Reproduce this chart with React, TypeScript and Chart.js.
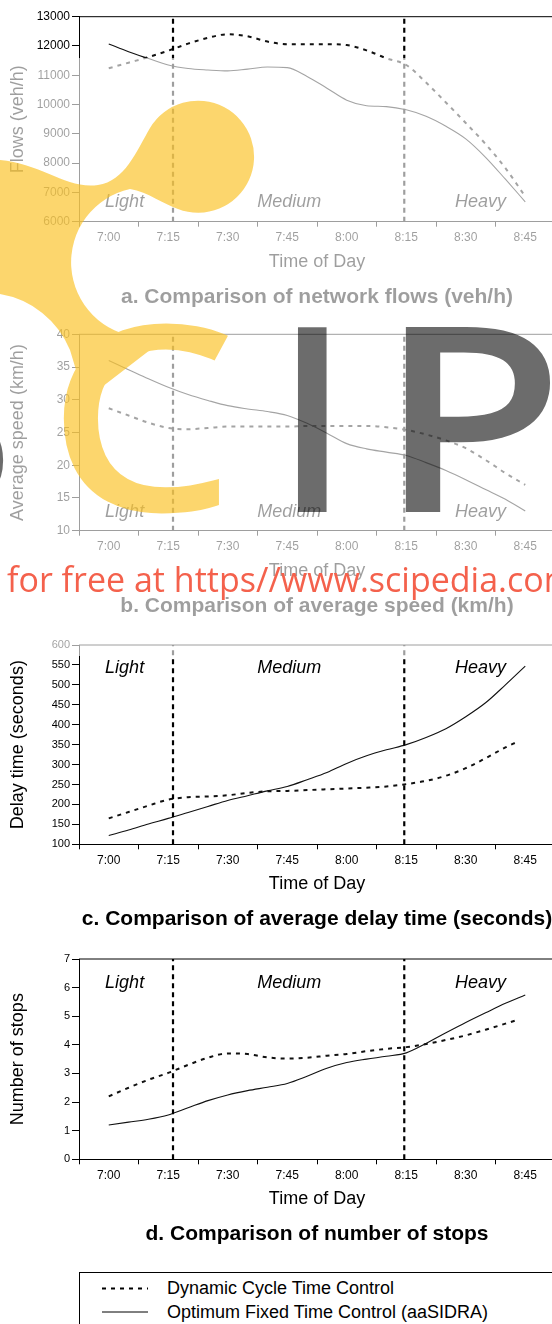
import React, { useEffect, useRef } from 'react';
import { Chart, registerables } from 'chart.js';

Chart.register(...registerables);

const FONT = "'Liberation Sans', Arial, Helvetica, sans-serif";

// ---------- data ----------
const timeLabels = ['7:00', '7:15', '7:30', '7:45', '8:00', '8:15', '8:30', '8:45'];
const labelMinutes = [0, 15, 30, 45, 60, 75, 90, 105];
const periodNames = ['Light', 'Medium', 'Heavy'];
const periodNameMinutes = [4, 45.5, 93.7];
const periodBoundaries = [16.2, 74.5];

const minutes = [0, 5, 10, 15, 20, 25, 30, 35, 40, 45, 50, 55, 60, 65, 70, 75, 80, 85, 90, 95, 100, 105];
const minutesShort = [0, 5, 10, 15, 20, 25, 30, 35, 40, 45, 50, 55, 60, 65, 70, 75, 80, 85, 90, 95, 100, 103];

const flowDynamic = [11240, 11430, 11620, 11840, 12080, 12280, 12400, 12330, 12150, 12060, 12060, 12060, 12030, 11850, 11580, 11350, 10750, 10070, 9370, 8650, 7830, 6860];
const flowOptimum = [12070, 11800, 11570, 11350, 11230, 11180, 11150, 11210, 11280, 11260, 10960, 10560, 10150, 9960, 9930, 9820, 9600, 9260, 8830, 8200, 7450, 6680];

const speedDynamic = [28.7, 27.6, 26.5, 25.7, 25.5, 25.7, 25.9, 25.9, 25.9, 25.9, 26.0, 26.0, 26.0, 26.0, 25.8, 25.4, 24.7, 23.8, 22.6, 20.8, 18.8, 17.0];
const speedOptimum = [36.0, 34.6, 33.2, 31.9, 30.8, 29.9, 29.1, 28.6, 28.2, 27.6, 26.4, 24.9, 23.3, 22.5, 22.0, 21.5, 20.4, 19.2, 17.8, 16.3, 14.8, 13.0];

const delayDynamic = [165, 181, 197, 212, 218, 220, 223, 229, 233, 234, 236, 238, 240, 242, 245, 251, 259, 272, 291, 316, 343, 357];
const delayOptimum = [122, 136, 151, 165, 180, 195, 210, 222, 234, 245, 262, 280, 303, 322, 337, 350, 368, 390, 420, 455, 500, 547];

const stopsDynamic = [2.2, 2.5, 2.78, 3.02, 3.3, 3.55, 3.7, 3.68, 3.56, 3.52, 3.55, 3.62, 3.68, 3.78, 3.86, 3.92, 4.03, 4.17, 4.33, 4.53, 4.74, 4.87];
const stopsOptimum = [1.2, 1.3, 1.4, 1.55, 1.8, 2.05, 2.25, 2.4, 2.52, 2.65, 2.9, 3.18, 3.38, 3.5, 3.6, 3.72, 4.05, 4.42, 4.78, 5.12, 5.45, 5.74];

const legendLabels = ['Dynamic Cycle Time Control', 'Optimum Fixed Time Control (aaSIDRA)'];

// ---------- panel layout ----------
type PanelSpec = {
  plotTop: number;
  plotBottom: number;
  yMin: number;
  yMax: number;
  yStep: number;
  yTickSize: number;
  yTitle: string;
  title: string;
  dynX: number[];
  dynY: number[];
  optX: number[];
  optY: number[];
  periodLabelValue: number;
};

const panels: PanelSpec[] = [
  {
    plotTop: 16.7, plotBottom: 221.7, yMin: 6000, yMax: 13000, yStep: 1000, yTickSize: 12,
    yTitle: 'Flows (veh/h)', title: 'a. Comparison of network flows (veh/h)',
    dynX: minutes, dynY: flowDynamic, optX: minutes, optY: flowOptimum, periodLabelValue: 6684,
  },
  {
    plotTop: 334.3, plotBottom: 530.7, yMin: 10, yMax: 40, yStep: 5, yTickSize: 12,
    yTitle: 'Average speed (km/h)', title: 'b. Comparison of average speed (km/h)',
    dynX: minutes, dynY: speedDynamic, optX: minutes, optY: speedOptimum, periodLabelValue: 12.9,
  },
  {
    plotTop: 645, plotBottom: 844.3, yMin: 100, yMax: 600, yStep: 50, yTickSize: 11,
    yTitle: 'Delay time (seconds)', title: 'c. Comparison of average delay time (seconds)',
    dynX: minutesShort, dynY: delayDynamic, optX: minutes, optY: delayOptimum, periodLabelValue: 542,
  },
  {
    plotTop: 959, plotBottom: 1159.3, yMin: 0, yMax: 7, yStep: 1, yTickSize: 11,
    yTitle: 'Number of stops', title: 'd. Comparison of number of stops',
    dynX: minutesShort, dynY: stopsDynamic, optX: minutes, optY: stopsOptimum, periodLabelValue: 6.16,
  },
];

const CANVAS_W = 555;
const X_AXIS_H = 51;
const TITLE_PAD_TOP = 11.6;
const TITLE_SIZE = 21;
const TITLE_BOX = TITLE_PAD_TOP + TITLE_SIZE * 1.2;

const decorPlugin = {
  id: 'decor',
  afterDatasetsDraw(chart: any, _args: any, opts: any) {
    const { ctx, chartArea, scales } = chart;
    ctx.save();
    ctx.strokeStyle = '#000';
    ctx.lineWidth = 1;
    ctx.beginPath();
    ctx.moveTo(chartArea.left, chartArea.top);
    ctx.lineTo(chartArea.right, chartArea.top);
    ctx.stroke();
    ctx.font = `italic 18px ${FONT}`;
    ctx.fillStyle = '#000';
    ctx.textAlign = 'center';
    ctx.textBaseline = 'middle';
    periodNames.forEach((n, i) => {
      ctx.fillText(n, scales.x.getPixelForValue(periodNameMinutes[i]), scales.y.getPixelForValue(opts.labelValue));
    });
    ctx.restore();
  },
};

function LinePanel({ spec }: { spec: PanelSpec }) {
  const ref = useRef<HTMLCanvasElement>(null);
  const canvasTop = Math.floor(spec.plotTop) - 12;
  const padTop = spec.plotTop - canvasTop;
  const plotH = spec.plotBottom - spec.plotTop;
  const needed = padTop + plotH + X_AXIS_H + TITLE_BOX;
  const canvasH = Math.ceil(needed);
  const padBottom = canvasH - needed;

  useEffect(() => {
    const toPts = (xs: number[], ys: number[]) => xs.map((x, i) => ({ x, y: ys[i] }));
    const vlines = periodBoundaries.map((b) => ({
      data: [{ x: b, y: spec.yMin }, { x: b, y: spec.yMax }],
      borderColor: '#000',
      borderWidth: 2.2,
      borderDash: [5, 4],
      pointRadius: 0,
      tension: 0,
    }));
    const chart = new Chart(ref.current as HTMLCanvasElement, {
      type: 'line',
      data: {
        datasets: [
          ...vlines,
          {
            label: legendLabels[0],
            data: toPts(spec.dynX, spec.dynY),
            borderColor: '#111',
            borderWidth: 2,
            borderDash: [4, 5],
            pointRadius: 0,
            cubicInterpolationMode: 'monotone',
          },
          {
            label: legendLabels[1],
            data: toPts(spec.optX, spec.optY),
            borderColor: '#111',
            borderWidth: 1.1,
            pointRadius: 0,
            cubicInterpolationMode: 'monotone',
          },
        ] as any,
      },
      options: {
        responsive: false,
        animation: false,
        events: [],
        layout: { padding: { top: padTop, left: 0, right: 0, bottom: padBottom } },
        font: { family: FONT },
        plugins: {
          legend: { display: false },
          tooltip: { enabled: false },
          title: {
            display: true,
            position: 'bottom',
            fullSize: false,
            text: spec.title,
            color: '#000',
            font: { family: FONT, size: TITLE_SIZE, weight: 'bold' },
            padding: { top: TITLE_PAD_TOP, bottom: 0 },
          },
          decor: { labelValue: spec.periodLabelValue },
        } as any,
        scales: {
          x: {
            type: 'linear',
            min: -7.5,
            max: 112.5,
            afterBuildTicks: (s: any) => {
              s.ticks = labelMinutes.map((v) => ({ value: v }));
            },
            afterFit: (s: any) => {
              s.height = X_AXIS_H;
            },
            ticks: {
              callback: (_v: any, i: number) => timeLabels[i],
              color: '#000',
              font: { family: FONT, size: 12 },
              padding: 4,
              maxRotation: 0,
              autoSkip: false,
            },
            grid: { offset: true, drawOnChartArea: false, drawTicks: true, tickLength: 5, color: '#000' },
            border: { display: true, color: '#000', width: 1 },
            title: {
              display: true,
              text: 'Time of Day',
              color: '#000',
              font: { family: FONT, size: 18 },
              padding: { top: 6, bottom: 0 },
            },
          },
          y: {
            type: 'linear',
            min: spec.yMin,
            max: spec.yMax,
            afterFit: (s: any) => {
              s.width = 79;
            },
            ticks: {
              stepSize: spec.yStep,
              callback: (v: any) => String(v),
              color: '#000',
              font: { family: FONT, size: spec.yTickSize },
              padding: 2,
            },
            grid: { drawOnChartArea: false, drawTicks: true, tickLength: 7, color: '#000' },
            border: { display: true, color: '#000', width: 1 },
            title: {
              display: true,
              text: spec.yTitle,
              color: '#000',
              font: { family: FONT, size: 18 },
              padding: { top: 7, bottom: 0 },
            },
          },
        } as any,
      },
      plugins: [decorPlugin],
    } as any);
    return () => chart.destroy();
  }, []);

  return (
    <canvas
      ref={ref}
      width={CANVAS_W}
      height={canvasH}
      style={{ position: 'absolute', left: 0, top: canvasTop, width: CANVAS_W, height: canvasH }}
    />
  );
}

const YELLOW = 'rgb(250,192,32)';
const LOGO_FONT = "'Open Sans', 'Noto Sans', sans-serif";
const LOGO_SIZE = 248;

export default function App() {
  return (
    <div
      style={{
        position: 'absolute',
        left: 0,
        top: 0,
        width: 552,
        height: 1324,
        overflow: 'hidden',
        background: '#fff',
        fontFamily: FONT,
      }}
    >
      {panels.map((p, i) => (
        <LinePanel key={i} spec={p} />
      ))}

      {/* legend */}
      <div
        style={{
          position: 'absolute',
          left: 79,
          top: 1272,
          width: 520,
          height: 90,
          border: '1px solid #000',
          boxSizing: 'border-box',
        }}
      >
        <svg width={80} height={60} style={{ position: 'absolute', left: 0, top: 0 }}>
          <line x1={22} y1={15.5} x2={68} y2={15.5} stroke="#000" strokeWidth={2} strokeDasharray="4 5" />
          <line x1={22} y1={39} x2={68} y2={39} stroke="#000" strokeWidth={1} />
        </svg>
        {legendLabels.map((t, i) => (
          <div
            key={t}
            style={{
              position: 'absolute',
              left: 87,
              top: 4 + i * 23.5,
              fontSize: 18,
              lineHeight: '22px',
              color: '#000',
              whiteSpace: 'nowrap',
            }}
          >
            {t}
          </div>
        ))}
      </div>

      {/* watermark veil */}
      <div
        style={{
          position: 'absolute',
          left: 0,
          top: 58,
          width: 552,
          height: 598,
          background: 'rgba(255,255,255,0.62)',
        }}
      />

      {/* watermark logo */}
      <svg width={552} height={1324} style={{ position: 'absolute', left: 0, top: 0 }}>
        <g opacity={0.65}>
          <path
            d="M 0 160 C 40 163, 68 190, 98 185 C 125 181, 136 152, 150 128 A 56 56 0 1 1 178 209 C 165 205, 148 192, 130 189 A 75 75 0 0 0 140 337 L 150 350 L 85 400 L 70 350 A 92 92 0 0 0 0 294 Z"
            fill={YELLOW}
          />
          <g transform="translate(74,0) scale(1.15,1)">
            <text
              x={-20}
              y={507}
              fontSize={LOGO_SIZE}
              fontFamily={LOGO_FONT}
              fontWeight={400}
              fill={YELLOW}
              stroke={YELLOW}
              strokeWidth={8}
              strokeLinejoin="miter"
            >
              C
            </text>
          </g>
        </g>
        <g opacity={0.58} fill="#000" stroke="#000" strokeWidth={8} strokeLinejoin="miter" fontFamily={LOGO_FONT} fontSize={LOGO_SIZE} fontWeight={400}>
          <text x={-125} y={508}>S</text>
          <text x={312.5} y={508} textAnchor="middle">I</text>
          <g transform="translate(411,0) scale(1.2,1)">
            <text x={-24.5} y={508}>P</text>
          </g>
        </g>
        <text x={7} y={592} fontSize={34} fill="#F4614C" fontFamily={LOGO_FONT}>
          for free at https//www.scipedia.com
        </text>
      </svg>
    </div>
  );
}
